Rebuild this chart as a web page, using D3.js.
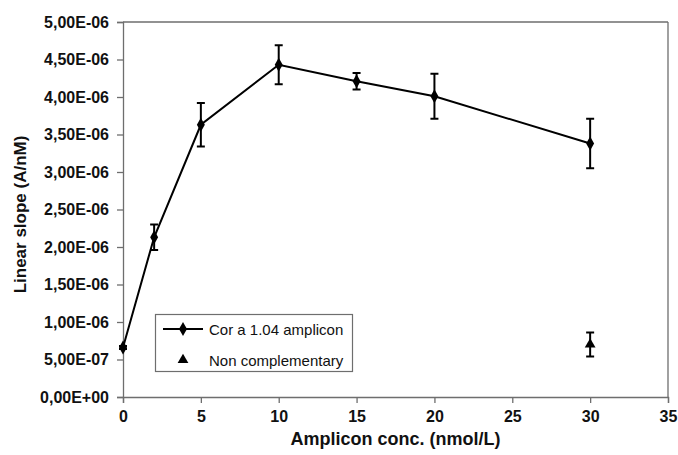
<!DOCTYPE html>
<html><head><meta charset="utf-8">
<script src="https://cdn.jsdelivr.net/npm/d3@7"></script>
<style>body{margin:0;background:#fff}svg{display:block}</style>
</head><body>
<script>
const concentrations = [0, 2, 5, 10, 15, 20, 30];
const slopeValues = [0.66e-6, 2.13e-6, 3.63e-6, 4.43e-6, 4.21e-6, 4.01e-6, 3.38e-6];
const slopeErrors = [0.02e-6, 0.17e-6, 0.29e-6, 0.26e-6, 0.11e-6, 0.30e-6, 0.33e-6];
const nonCompConc = [30];
const nonCompValues = [0.70e-6];
const nonCompErrors = [0.16e-6];
const xTicks = [0, 5, 10, 15, 20, 25, 30, 35];
const yTicks = [0, 0.5e-6, 1e-6, 1.5e-6, 2e-6, 2.5e-6, 3e-6, 3.5e-6, 4e-6, 4.5e-6, 5e-6];
const yTickLabels = ["0,00E+00","5,00E-07","1,00E-06","1,50E-06","2,00E-06","2,50E-06","3,00E-06","3,50E-06","4,00E-06","4,50E-06","5,00E-06"];
const seriesNames = ["Cor a 1.04 amplicon", "Non complementary"];

const W = 678, H = 455;
const m = {l:123, t:22, r:10, b:58};
const svg = d3.select("body").append("svg").attr("width", W).attr("height", H);
const x = d3.scaleLinear().domain([0,35]).range([m.l, W - m.r]);
const y = d3.scaleLinear().domain([0,5e-6]).range([H - m.b, m.t]);
const font = "'Liberation Sans', Arial, sans-serif";
const axisCol = "#6e6e6e";

// frame top/right
svg.append("line").attr("x1", x(0)).attr("x2", x(35)).attr("y1", y(5e-6)).attr("y2", y(5e-6)).attr("stroke", axisCol).attr("stroke-width", 1.3);
svg.append("line").attr("x1", x(35)).attr("x2", x(35)).attr("y1", y(5e-6)).attr("y2", y(0)).attr("stroke", axisCol).attr("stroke-width", 1.3);

const xAxis = svg.append("g").attr("transform", `translate(0,${y(0)})`)
  .call(d3.axisBottom(x).tickValues(xTicks).tickSize(6).tickPadding(8).tickFormat(d3.format("d")));
const yAxis = svg.append("g").attr("transform", `translate(${x(0)},0)`)
  .call(d3.axisLeft(y).tickValues(yTicks).tickSize(6).tickPadding(8).tickFormat((d,i)=>yTickLabels[i]));
[xAxis, yAxis].forEach(g => {
  g.select(".domain").attr("stroke", axisCol).attr("stroke-width", 1.3);
  g.selectAll(".tick line").attr("stroke", axisCol).attr("stroke-width", 1.3);
  g.selectAll("text").attr("font-family", font).attr("font-weight", "bold").attr("font-size", 16)
    .attr("fill", "#111");
});

// titles
svg.append("text").attr("x", (x(0)+x(35))/2).attr("y", 445).attr("text-anchor","middle")
  .attr("font-family", font).attr("font-weight","bold").attr("font-size",18).attr("fill","#111")
  .text("Amplicon conc. (nmol/L)");
svg.append("text").attr("transform", `translate(26,${(y(0)+y(5e-6))/2 + 5}) rotate(-90)`).attr("text-anchor","middle")
  .attr("font-family", font).attr("font-weight","bold").attr("font-size",17).attr("fill","#111")
  .text("Linear slope (A/nM)");

const main = concentrations.map((c,i)=>({x:c, y:slopeValues[i], e:slopeErrors[i]}));
const nc = nonCompConc.map((c,i)=>({x:c, y:nonCompValues[i], e:nonCompErrors[i]}));

// line
svg.append("path").datum(main).attr("fill","none").attr("stroke","#000").attr("stroke-width",2)
  .attr("d", d3.line().x(d=>x(d.x)).y(d=>y(d.y)));

function errorBars(data){
  const g = svg.append("g").attr("stroke","#000").attr("stroke-width",2);
  data.forEach(d=>{
    g.append("line").attr("x1",x(d.x)).attr("x2",x(d.x)).attr("y1",y(d.y-d.e)).attr("y2",y(d.y+d.e));
    [d.y-d.e, d.y+d.e].forEach(v=>g.append("line").attr("x1",x(d.x)-4).attr("x2",x(d.x)+4).attr("y1",y(v)).attr("y2",y(v)));
  });
}
errorBars(main);
errorBars(nc);

const diamond = d3.symbol().type(d3.symbolDiamond).size(55);
const tri = d3.symbol().type(d3.symbolTriangle).size(50);
svg.append("g").selectAll("path").data(main).join("path")
  .attr("transform", d=>`translate(${x(d.x)},${y(d.y)})`).attr("d", diamond).attr("fill","#000");
svg.append("g").selectAll("path").data(nc).join("path")
  .attr("transform", d=>`translate(${x(d.x)},${y(d.y)})`).attr("d", tri).attr("fill","#000");

// legend
const lg = svg.append("g");
lg.append("rect").attr("x",155.5).attr("y",314.5).attr("width",197).attr("height",57)
  .attr("fill","#fff").attr("stroke","#6e6e6e").attr("stroke-width",1.2);
lg.append("line").attr("x1",163).attr("x2",203).attr("y1",329).attr("y2",329).attr("stroke","#000").attr("stroke-width",2);
lg.append("path").attr("transform","translate(183,329)").attr("d", diamond).attr("fill","#000");
lg.append("path").attr("transform","translate(183,360)").attr("d", tri).attr("fill","#000");
lg.selectAll("text.l").data(seriesNames).join("text")
  .attr("x",209).attr("y",(d,i)=>[334.5,365.5][i]).attr("font-family",font).attr("font-size",15).attr("fill","#111")
  .text(d=>d);
</script>
</body></html>
